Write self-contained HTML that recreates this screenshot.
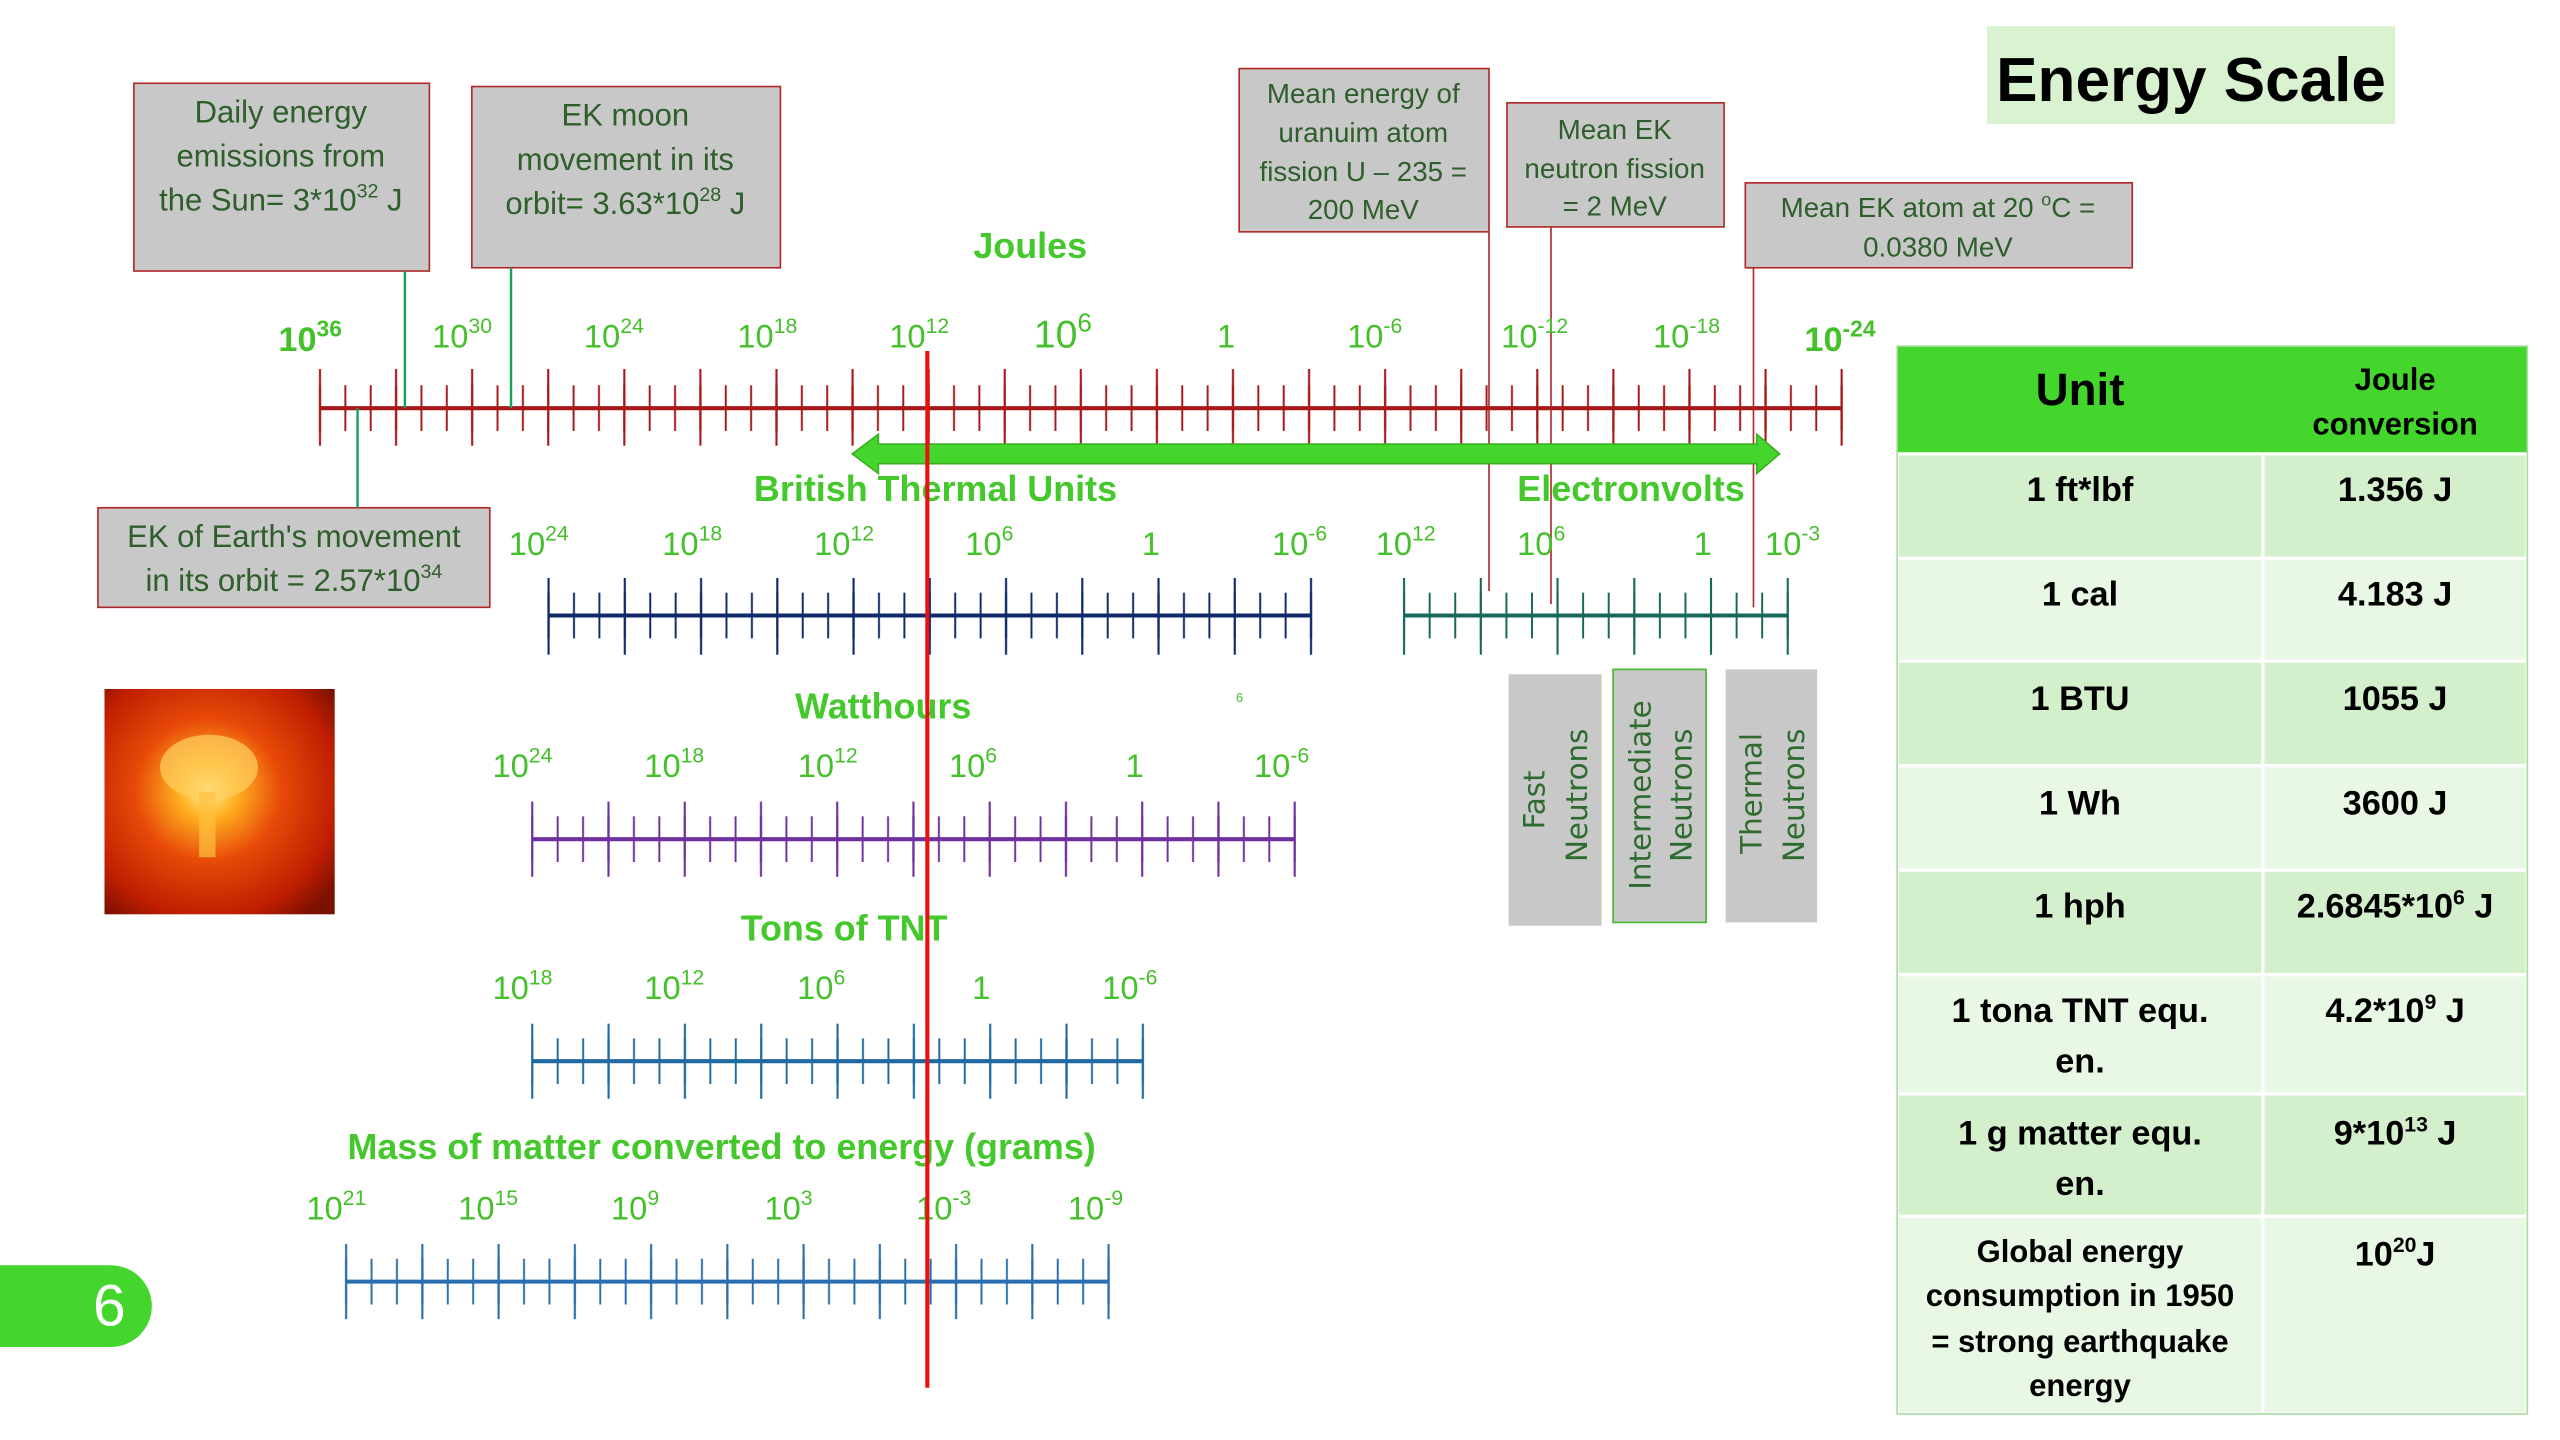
<!DOCTYPE html>
<html><head><meta charset="utf-8">
<style>
html,body{margin:0;padding:0;background:#fff;}
svg{display:block;font-family:"Liberation Sans",sans-serif;}
</style></head>
<body>
<svg width="2560" height="1440" viewBox="0 0 1568 882" xmlns="http://www.w3.org/2000/svg">
<defs>
<radialGradient id="boom" cx="0.45" cy="0.45" r="0.7">
<stop offset="0" stop-color="#fff3a0"/><stop offset="0.18" stop-color="#ffb020"/>
<stop offset="0.45" stop-color="#e84a08"/><stop offset="0.8" stop-color="#c01e00"/><stop offset="1" stop-color="#7a1000"/>
</radialGradient>
<!-- Joules -->
<pattern id="jS" patternUnits="userSpaceOnUse" x="188.233" y="236" width="15.5333" height="28"><line x1="7.7667" y1="0" x2="7.7667" y2="28" stroke="#a81818" stroke-width="1.2"/></pattern>
<pattern id="jL" patternUnits="userSpaceOnUse" x="172.7" y="226" width="46.6" height="47"><line x1="23.3" y1="0" x2="23.3" y2="47" stroke="#a81818" stroke-width="1.3"/></pattern>
<!-- BTU -->
<pattern id="bS" patternUnits="userSpaceOnUse" x="328.217" y="363" width="15.567" height="28"><line x1="7.783" y1="0" x2="7.783" y2="28" stroke="#0e2a6a" stroke-width="1.2"/></pattern>
<pattern id="bL" patternUnits="userSpaceOnUse" x="312.65" y="354" width="46.7" height="47"><line x1="23.35" y1="0" x2="23.35" y2="47" stroke="#0e2a6a" stroke-width="1.3"/></pattern>
<!-- eV -->
<pattern id="eS" patternUnits="userSpaceOnUse" x="852.167" y="363" width="15.667" height="28"><line x1="7.833" y1="0" x2="7.833" y2="28" stroke="#17685a" stroke-width="1.2"/></pattern>
<pattern id="eL" patternUnits="userSpaceOnUse" x="836.5" y="354" width="47" height="47"><line x1="23.5" y1="0" x2="23.5" y2="47" stroke="#17685a" stroke-width="1.3"/></pattern>
<!-- Watt -->
<pattern id="wS" patternUnits="userSpaceOnUse" x="318.217" y="500" width="15.567" height="28"><line x1="7.783" y1="0" x2="7.783" y2="28" stroke="#7030a0" stroke-width="1.2"/></pattern>
<pattern id="wL" patternUnits="userSpaceOnUse" x="302.65" y="491" width="46.7" height="46"><line x1="23.35" y1="0" x2="23.35" y2="46" stroke="#7030a0" stroke-width="1.3"/></pattern>
<!-- TNT -->
<pattern id="tS" patternUnits="userSpaceOnUse" x="318.208" y="636" width="15.583" height="28"><line x1="7.792" y1="0" x2="7.792" y2="28" stroke="#1f6aa0" stroke-width="1.2"/></pattern>
<pattern id="tL" patternUnits="userSpaceOnUse" x="302.625" y="627" width="46.75" height="46"><line x1="23.375" y1="0" x2="23.375" y2="46" stroke="#1f6aa0" stroke-width="1.3"/></pattern>
<!-- Mass -->
<pattern id="mS" patternUnits="userSpaceOnUse" x="204.217" y="771" width="15.567" height="28"><line x1="7.783" y1="0" x2="7.783" y2="28" stroke="#2a6eb0" stroke-width="1.2"/></pattern>
<pattern id="mL" patternUnits="userSpaceOnUse" x="188.65" y="762" width="46.7" height="46"><line x1="23.35" y1="0" x2="23.35" y2="46" stroke="#2a6eb0" stroke-width="1.3"/></pattern>
</defs>
<rect width="1568" height="882" fill="#fff"/>
<!-- title -->
<rect x="1217" y="16" width="250" height="60" fill="#d9f2d0"/>
<text x="1342" y="62" font-size="38" font-weight="bold" text-anchor="middle" fill="#000">Energy Scale</text>

<!-- boxes -->
<g fill="#c8c8c8" stroke="#b02828" stroke-width="1">
<rect x="82" y="51" width="181" height="115"/>
<rect x="289" y="53" width="189" height="111"/>
<rect x="759" y="42" width="153" height="100"/>
<rect x="923" y="63" width="133" height="76"/>
<rect x="1069" y="112" width="237" height="52"/>
<rect x="60" y="311" width="240" height="61"/>
</g>
<g font-size="19" fill="#2e5e2a" text-anchor="middle">
<text x="172" y="75">Daily energy</text>
<text x="172" y="102">emissions from</text>
<text x="172" y="129">the Sun= 3*10<tspan font-size="12" dy="-8">32</tspan><tspan dy="8"> J</tspan></text>
<text x="383" y="77">EK moon</text>
<text x="383" y="104">movement in its</text>
<text x="383" y="131">orbit= 3.63*10<tspan font-size="12" dy="-8">28</tspan><tspan dy="8"> J</tspan></text>
<g font-size="17">
<text x="835" y="63">Mean energy of</text>
<text x="835" y="87">uranuim  atom</text>
<text x="835" y="111">fission U – 235 =</text>
<text x="835" y="134">200 MeV</text>
<text x="989" y="85">Mean EK</text>
<text x="989" y="109">neutron fission</text>
<text x="989" y="132">= 2 MeV</text>
<text x="1187" y="133">Mean EK atom at 20 <tspan font-size="11" dy="-7">o</tspan><tspan dy="7">C =</tspan></text>
<text x="1187" y="157">0.0380 MeV</text>
</g>
<text x="180" y="335">EK of Earth's movement</text>
<text x="180" y="362">in its orbit = 2.57*10<tspan font-size="12" dy="-8">34</tspan></text>
</g>

<!-- axes -->
<rect x="188.233" y="236" width="947.5" height="28" fill="url(#jS)"/>
<rect x="172.7" y="226" width="978.6" height="47" fill="url(#jL)"/>
<line x1="196" y1="250" x2="1128" y2="250" stroke="#a81818" stroke-width="2.5"/>

<rect x="328.217" y="363" width="482.6" height="28" fill="url(#bS)"/>
<rect x="312.65" y="354" width="513.7" height="47" fill="url(#bL)"/>
<line x1="336" y1="377" x2="803" y2="377" stroke="#0e2a6a" stroke-width="2.5"/>

<rect x="852.167" y="363" width="250.7" height="28" fill="url(#eS)"/>
<rect x="836.5" y="354" width="282" height="47" fill="url(#eL)"/>
<line x1="860" y1="377" x2="1095" y2="377" stroke="#17685a" stroke-width="2.5"/>

<rect x="318.217" y="500" width="482.6" height="28" fill="url(#wS)"/>
<rect x="302.65" y="491" width="513.7" height="46" fill="url(#wL)"/>
<line x1="326" y1="514" x2="793" y2="514" stroke="#7030a0" stroke-width="2.5"/>

<rect x="318.208" y="636" width="389.6" height="28" fill="url(#tS)"/>
<rect x="302.625" y="627" width="420.75" height="46" fill="url(#tL)"/>
<line x1="326" y1="650" x2="700" y2="650" stroke="#1f6aa0" stroke-width="2.5"/>

<rect x="204.217" y="771" width="482.6" height="28" fill="url(#mS)"/>
<rect x="188.65" y="762" width="513.7" height="46" fill="url(#mL)"/>
<line x1="212" y1="785" x2="679" y2="785" stroke="#2a6eb0" stroke-width="2.5"/>

<!-- connectors -->
<g stroke="#1aa05a" stroke-width="1.5">
<line x1="248" y1="166" x2="248" y2="250"/>
<line x1="313" y1="164" x2="313" y2="250"/>
<line x1="219" y1="250" x2="219" y2="311"/>
</g>
<g stroke="#b02828" stroke-width="1">
<line x1="912" y1="142" x2="912" y2="362"/>
<line x1="950" y1="139" x2="950" y2="370"/>
<line x1="1074" y1="164" x2="1074" y2="372"/>
</g>

<!-- tick labels -->
<g font-size="20" fill="#44c02a" text-anchor="middle">
<text x="190" y="215" font-size="21" font-weight="bold">10<tspan font-size="14" dy="-9">36</tspan></text>
<text x="283" y="213">10<tspan font-size="13" dy="-9">30</tspan></text>
<text x="376" y="213">10<tspan font-size="13" dy="-9">24</tspan></text>
<text x="470" y="213">10<tspan font-size="13" dy="-9">18</tspan></text>
<text x="563" y="213">10<tspan font-size="13" dy="-9">12</tspan></text>
<text x="651" y="213" font-size="24">10<tspan font-size="16" dy="-10">6</tspan></text>
<text x="751" y="213">1</text>
<text x="842" y="213">10<tspan font-size="13" dy="-9">-6</tspan></text>
<text x="940" y="213">10<tspan font-size="13" dy="-9">-12</tspan></text>
<text x="1033" y="213">10<tspan font-size="13" dy="-9">-18</tspan></text>
<text x="1127" y="215" font-size="21" font-weight="bold">10<tspan font-size="14" dy="-9">-24</tspan></text>

<text x="330" y="340">10<tspan font-size="13" dy="-9">24</tspan></text>
<text x="424" y="340">10<tspan font-size="13" dy="-9">18</tspan></text>
<text x="517" y="340">10<tspan font-size="13" dy="-9">12</tspan></text>
<text x="606" y="340">10<tspan font-size="13" dy="-9">6</tspan></text>
<text x="705" y="340">1</text>
<text x="796" y="340">10<tspan font-size="13" dy="-9">-6</tspan></text>
<text x="861" y="340">10<tspan font-size="13" dy="-9">12</tspan></text>
<text x="944" y="340">10<tspan font-size="13" dy="-9">6</tspan></text>
<text x="1043" y="340">1</text>
<text x="1098" y="340">10<tspan font-size="13" dy="-9">-3</tspan></text>

<text x="320" y="476">10<tspan font-size="13" dy="-9">24</tspan></text>
<text x="413" y="476">10<tspan font-size="13" dy="-9">18</tspan></text>
<text x="507" y="476">10<tspan font-size="13" dy="-9">12</tspan></text>
<text x="596" y="476">10<tspan font-size="13" dy="-9">6</tspan></text>
<text x="695" y="476">1</text>
<text x="785" y="476">10<tspan font-size="13" dy="-9">-6</tspan></text>

<text x="320" y="612">10<tspan font-size="13" dy="-9">18</tspan></text>
<text x="413" y="612">10<tspan font-size="13" dy="-9">12</tspan></text>
<text x="503" y="612">10<tspan font-size="13" dy="-9">6</tspan></text>
<text x="601" y="612">1</text>
<text x="692" y="612">10<tspan font-size="13" dy="-9">-6</tspan></text>

<text x="206" y="747">10<tspan font-size="13" dy="-9">21</tspan></text>
<text x="299" y="747">10<tspan font-size="13" dy="-9">15</tspan></text>
<text x="389" y="747">10<tspan font-size="13" dy="-9">9</tspan></text>
<text x="483" y="747">10<tspan font-size="13" dy="-9">3</tspan></text>
<text x="578" y="747">10<tspan font-size="13" dy="-9">-3</tspan></text>
<text x="671" y="747">10<tspan font-size="13" dy="-9">-9</tspan></text>
</g>

<!-- axis titles -->
<g font-weight="bold" fill="#44c82c" font-size="22" text-anchor="middle">
<text x="631" y="158">Joules</text>
<text x="573" y="307">British Thermal Units</text>
<text x="999" y="307">Electronvolts</text>
<text x="541" y="440">Watthours</text>
<text x="517" y="576">Tons of TNT</text>
<text x="442" y="710">Mass of matter converted to energy (grams)</text>
</g>
<text x="757" y="430" font-size="8" fill="#44c82c">6</text>

<!-- arrow -->
<polygon points="522,278 538,266 538,272 1076,272 1076,266 1090,278 1076,290 1076,284 538,284 538,290" fill="#44d62c" stroke="#3aae22" stroke-width="1"/>

<!-- red line -->
<line x1="568" y1="215" x2="568" y2="850" stroke="#e81010" stroke-width="2.5"/>

<!-- explosion -->
<rect x="64" y="422" width="141" height="138" fill="url(#boom)"/>
<ellipse cx="128" cy="470" rx="30" ry="20" fill="#ffd060" opacity="0.7"/>
<rect x="122" y="485" width="10" height="40" fill="#ffc040" opacity="0.7"/>

<!-- neutrons -->
<rect x="924" y="413" width="57" height="154" fill="#c8c8c8"/>
<rect x="988" y="410" width="57" height="155" fill="#c8c8c8" stroke="#44b82c" stroke-width="1"/>
<rect x="1057" y="410" width="56" height="155" fill="#c8c8c8"/>
<g font-size="18" fill="#2e6b2e" font-family="DejaVu Sans,sans-serif">
<text transform="translate(946,508) rotate(-90)">Fast</text>
<text transform="translate(972,528) rotate(-90)">Neutrons</text>
<text transform="translate(1011,545) rotate(-90)">Intermediate</text>
<text transform="translate(1036,528) rotate(-90)">Neutrons</text>
<text transform="translate(1079,523) rotate(-90)">Thermal</text>
<text transform="translate(1105,528) rotate(-90)">Neutrons</text>
</g>

<!-- table -->
<rect x="1162" y="212" width="386" height="66" fill="#44d62c"/>
<text x="1274" y="248" font-size="28" font-weight="bold" text-anchor="middle">Unit</text>
<text x="1467" y="239" font-size="19" font-weight="bold" text-anchor="middle">Joule</text>
<text x="1467" y="266" font-size="19" font-weight="bold" text-anchor="middle">conversion</text>
<g stroke="#fff" stroke-width="2">
<rect x="1162" y="278" width="386" height="64" fill="#d3efcb"/>
<rect x="1162" y="342" width="386" height="63" fill="#e9f7e5"/>
<rect x="1162" y="405" width="386" height="64" fill="#d3efcb"/>
<rect x="1162" y="469" width="386" height="64" fill="#e9f7e5"/>
<rect x="1162" y="533" width="386" height="64" fill="#d3efcb"/>
<rect x="1162" y="597" width="386" height="73" fill="#e9f7e5"/>
<rect x="1162" y="670" width="386" height="75" fill="#d3efcb"/>
<rect x="1162" y="745" width="386" height="121" fill="#e9f7e5"/>
<line x1="1386" y1="278" x2="1386" y2="866"/>
</g>
<rect x="1162" y="212" width="386" height="654" fill="none" stroke="#a8dca0" stroke-width="1"/>
<g font-size="21" font-weight="bold" text-anchor="middle" fill="#000">
<text x="1274" y="307">1 ft*lbf</text><text x="1467" y="307">1.356 J</text>
<text x="1274" y="371">1 cal</text><text x="1467" y="371">4.183 J</text>
<text x="1274" y="435">1 BTU</text><text x="1467" y="435">1055 J</text>
<text x="1274" y="499">1 Wh</text><text x="1467" y="499">3600 J</text>
<text x="1274" y="562">1 hph</text><text x="1467" y="562">2.6845*10<tspan font-size="13" dy="-8">6</tspan><tspan dy="8"> J</tspan></text>
<text x="1274" y="626">1 tona TNT equ.</text><text x="1274" y="657">en.</text>
<text x="1467" y="626">4.2*10<tspan font-size="13" dy="-8">9</tspan><tspan dy="8"> J</tspan></text>
<text x="1274" y="701">1 g matter equ.</text><text x="1274" y="732">en.</text>
<text x="1467" y="701">9*10<tspan font-size="13" dy="-8">13</tspan><tspan dy="8"> J</tspan></text>
<g font-size="19">
<text x="1274" y="773">Global energy</text>
<text x="1274" y="800">consumption in 1950</text>
<text x="1274" y="828">= strong earthquake</text>
<text x="1274" y="855">energy</text>
</g>
<text x="1467" y="775">10<tspan font-size="13" dy="-8">20</tspan><tspan dy="8">J</tspan></text>
</g>

<!-- page number -->
<path d="M0,775 H68 A25,25 0 0 1 68,825 H0 Z" fill="#44d62c"/>
<text x="67" y="812" font-size="36" fill="#fff" text-anchor="middle">6</text>
</svg>
</body></html>
